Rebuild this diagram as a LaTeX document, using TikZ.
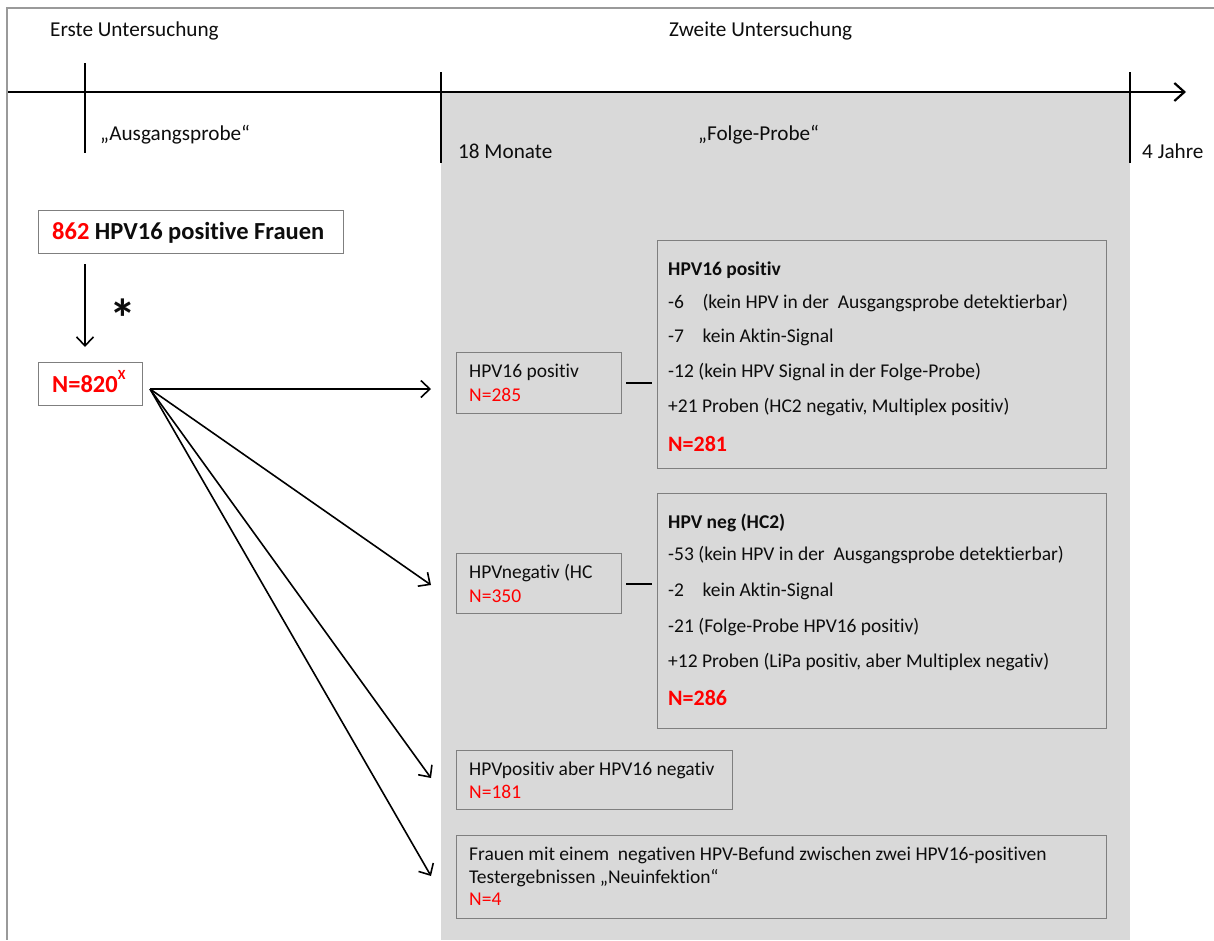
\documentclass[tikz,border=0pt]{standalone}
\usepackage{fontspec}
\setmainfont{Carlito}[Ligatures=NoCommon]
\usetikzlibrary{arrows.meta}
\definecolor{boxgray}{HTML}{7F7F7F}
\definecolor{bggray}{HTML}{D9D9D9}
\definecolor{framegray}{HTML}{9A9A9A}
\definecolor{txt}{HTML}{0D0D0D}
\begin{document}
\begin{tikzpicture}[x=1pt,y=-1pt,
  lbl/.style={anchor=base west,inner sep=0pt,text=txt,font=\fontsize{21.2}{25}\selectfont},
  bodytxt/.style={anchor=base west,inner sep=0pt,text=txt,font=\fontsize{19.5}{23}\selectfont},
  redtxt/.style={anchor=base west,inner sep=0pt,text=red,font=\fontsize{19.5}{23}\selectfont},
  bigred/.style={anchor=base west,inner sep=0pt,text=red,font=\fontsize{22}{26}\selectfont\bfseries},
  boxframe/.style={draw=boxgray,line width=1.4pt,anchor=north west,inner sep=0pt},
  arr/.style={draw=black,line width=1.6pt,-{Straight Barb[length=9pt,width=17pt,line width=1.6pt]}},
  tick/.style={draw=black,line width=2.6pt},
  link/.style={draw=black,line width=2pt}]
\useasboundingbox (0,0) rectangle (1214,940);
% background and frame
\fill[bggray] (441,92) rectangle (1130,940);
\draw[framegray,line width=2pt] (1214,8) -- (7,8) -- (7,940);
% timeline
\coordinate (tl0) at (8,92);
\coordinate (tl1) at (1186,92);
\draw[line width=2.2pt,-{Straight Barb[length=10pt,width=18pt,line width=2.2pt]}] (tl0) -- (tl1);
\coordinate (t1a) at (85,63);  \coordinate (t1b) at (85,153);
\coordinate (t2a) at (441,72); \coordinate (t2b) at (441,163);
\coordinate (t3a) at (1130,72); \coordinate (t3b) at (1130,163);
\draw[tick] (t1a) -- (t1b);
\draw[tick] (t2a) -- (t2b);
\draw[tick] (t3a) -- (t3b);
% timeline labels
\node[lbl] (erste) at (50,36) {Erste Untersuchung};
\node[lbl] (zweite) at (669,36) {Zweite Untersuchung};
\node[lbl] (ausg) at (100,140) {„Ausgangsprobe“};
\node[lbl] (folge) at (698,140) {„Folge-Probe“};
\node[lbl] (mon) at (458,158) {18 Monate};
\node[lbl] (jahre) at (1142,158) {4 Jahre};
% left boxes
\node[boxframe,minimum width=305pt,minimum height=43pt] (b862) at (38,210) {};
\node[anchor=base west,inner sep=0pt,text=txt,font=\fontsize{24.5}{28}\selectfont\bfseries] (t862) at (52,239) {\textcolor{red}{862} HPV16 positive Frauen};
\coordinate (d0) at (85,264);
\coordinate (d1) at (85,347);
\draw[arr] (d0) -- (d1);
\node[inner sep=0pt,text=txt,font=\fontsize{54}{54}\selectfont\bfseries] (star) at (123,318) {*};
\node[boxframe,minimum width=104pt,minimum height=43pt] (b820) at (38,362) {};
\node[anchor=base west,inner sep=0pt,text=red,font=\fontsize{24.5}{28}\selectfont\bfseries] (t820) at (52,392) {N=820\raisebox{0.5em}{\fontsize{14}{14}\selectfont X}};
% fan arrows
\coordinate (src) at (150,389);
\coordinate (e1) at (431,389);
\coordinate (e2) at (431,585);
\coordinate (e3) at (431,778);
\coordinate (e4) at (431,876);
\draw[arr] (src) -- (e1);
\draw[arr] (src) -- (e2);
\draw[arr] (src) -- (e3);
\draw[arr] (src) -- (e4);
% small box A
\node[boxframe,minimum width=165pt,minimum height=61pt] (bA) at (456,352) {};
\node[bodytxt] (tA1) at (469,377) {HPV16 positiv};
\node[redtxt] (tA2) at (469,401) {N=285};
% big box 1
\node[boxframe,minimum width=449pt,minimum height=228pt] (b1) at (657,240) {};
\node[bodytxt,font=\fontsize{19.5}{23}\selectfont\bfseries] (t11) at (668,275) {HPV16 positiv};
\node[bodytxt] (t12) at (668,308) {-6\hspace{0.95em}(kein HPV in der\ \ Ausgangsprobe detektierbar)};
\node[bodytxt] (t13) at (668,342) {-7\hspace{0.95em}kein Aktin-Signal};
\node[bodytxt] (t14) at (668,377) {-12 (kein HPV Signal in der Folge-Probe)};
\node[bodytxt] (t15) at (668,412) {+21 Proben (HC2 negativ, Multiplex positiv)};
\node[bigred] (t16) at (668,451) {N=281};
\draw[link] ([xshift=4pt]bA.east) -- ([xshift=-5pt]bA.east -| b1.west);
% small box B
\node[boxframe,minimum width=165pt,minimum height=60pt] (bB) at (456,553) {};
\node[bodytxt] (tB1) at (469,578) {HPVnegativ (HC};
\node[redtxt] (tB2) at (469,602) {N=350};
% big box 2
\node[boxframe,minimum width=449pt,minimum height=235pt] (b2) at (657,493) {};
\node[bodytxt,font=\fontsize{19.5}{23}\selectfont\bfseries] (t21) at (668,528) {HPV neg (HC2)};
\node[bodytxt] (t22) at (668,560) {-53 (kein HPV in der\ \ Ausgangsprobe detektierbar)};
\node[bodytxt] (t23) at (668,596) {-2\hspace{0.95em}kein Aktin-Signal};
\node[bodytxt] (t24) at (668,632) {-21 (Folge-Probe HPV16 positiv)};
\node[bodytxt] (t25) at (668,667) {+12 Proben (LiPa positiv, aber Multiplex negativ)};
\node[bigred] (t26) at (668,705) {N=286};
\draw[link] ([xshift=4pt]bB.east) -- ([xshift=-5pt]bB.east -| b2.west);
% box C
\node[boxframe,minimum width=276pt,minimum height=59pt] (bC) at (456,750) {};
\node[bodytxt] (tC1) at (469,775) {HPVpositiv aber HPV16 negativ};
\node[redtxt] (tC2) at (469,798) {N=181};
% box D
\node[boxframe,minimum width=650pt,minimum height=83pt] (bD) at (456,835) {};
\node[bodytxt] (tD1) at (469,860) {Frauen mit einem\ \ negativen HPV-Befund zwischen zwei HPV16-positiven};
\node[bodytxt] (tD2) at (469,883) {Testergebnissen „Neuinfektion“};
\node[redtxt] (tD3) at (469,905) {N=4};
\end{tikzpicture}
\end{document}
